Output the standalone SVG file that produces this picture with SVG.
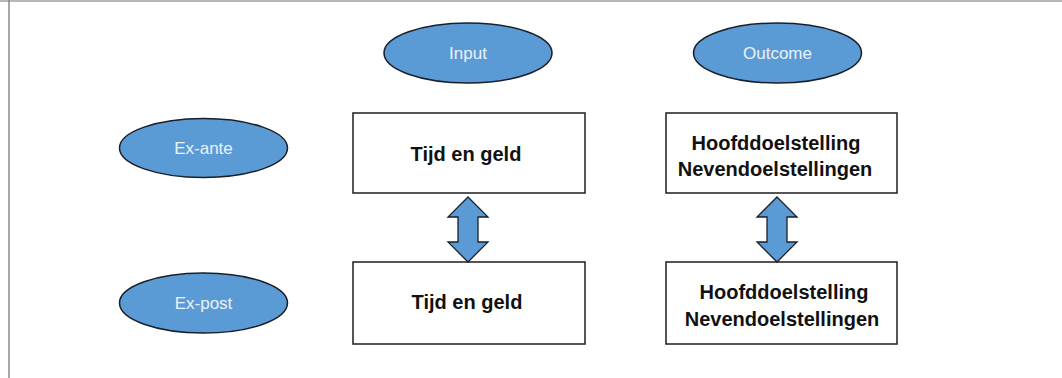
<svg xmlns="http://www.w3.org/2000/svg" width="1062" height="378" viewBox="0 0 1062 378">
  <style>
    .ell { fill: #5b9bd5; stroke: #1a1f2a; stroke-width: 1.5; }
    .elabel { font-family: "Liberation Sans", Arial, sans-serif; font-size: 17px; fill: #eaf2fb; text-anchor: middle; }
    .box { fill: #ffffff; stroke: #2b2b2b; stroke-width: 1.6; }
    .blabel { font-family: "Liberation Sans", Arial, sans-serif; font-size: 20px; font-weight: bold; fill: #111111; text-anchor: middle; }
    .arrow { fill: #5b9bd5; stroke: #1a1f2a; stroke-width: 1.3; stroke-linejoin: miter; }
  </style>
  <rect x="0" y="0" width="1062" height="378" fill="#ffffff"/>
  <g id="frame">
    <line x1="0" y1="1" x2="1062" y2="1" stroke="#a0a0a0" stroke-width="1.5"/>
    <line x1="9" y1="0" x2="9" y2="378" stroke="#8a8a8a" stroke-width="1.5"/>
  </g>
  <g id="input">
    <ellipse class="ell" cx="468" cy="53" rx="84" ry="30"/>
    <text class="elabel" x="468" y="59">Input</text>
  </g>
  <g id="outcome">
    <ellipse class="ell" cx="777.5" cy="53" rx="84" ry="30"/>
    <text class="elabel" x="777.5" y="59">Outcome</text>
  </g>
  <g id="ex-ante">
    <ellipse class="ell" cx="203.5" cy="148" rx="84" ry="29.5"/>
    <text class="elabel" x="203.5" y="154">Ex-ante</text>
  </g>
  <g id="ex-post">
    <ellipse class="ell" cx="203.5" cy="303" rx="84" ry="30"/>
    <text class="elabel" x="203.5" y="309">Ex-post</text>
  </g>
  <g id="input-ex-ante">
    <rect class="box" x="353" y="113" width="232" height="80"/>
    <text class="blabel" x="466" y="161">Tijd en geld</text>
  </g>
  <g id="input-ex-post">
    <rect class="box" x="353" y="262" width="232" height="82"/>
    <text class="blabel" x="467" y="309">Tijd en geld</text>
  </g>
  <g id="outcome-ex-ante">
    <rect class="box" x="666" y="113" width="231" height="80"/>
    <text class="blabel" x="776" y="150">Hoofddoelstelling</text>
    <text class="blabel" x="775" y="176">Nevendoelstellingen</text>
  </g>
  <g id="outcome-ex-post">
    <rect class="box" x="666" y="262" width="231" height="82"/>
    <text class="blabel" x="784" y="299">Hoofddoelstelling</text>
    <text class="blabel" x="782" y="326">Nevendoelstellingen</text>
  </g>
  <g id="connectors">
    <polygon class="arrow" points="468,197 488,217 478,217 478,242 488,242 468,262 448,242 458,242 458,217 448,217"/>
    <polygon class="arrow" points="777,197 797,217 787,217 787,242 797,242 777,262 757,242 767,242 767,217 757,217"/>
  </g>
</svg>
